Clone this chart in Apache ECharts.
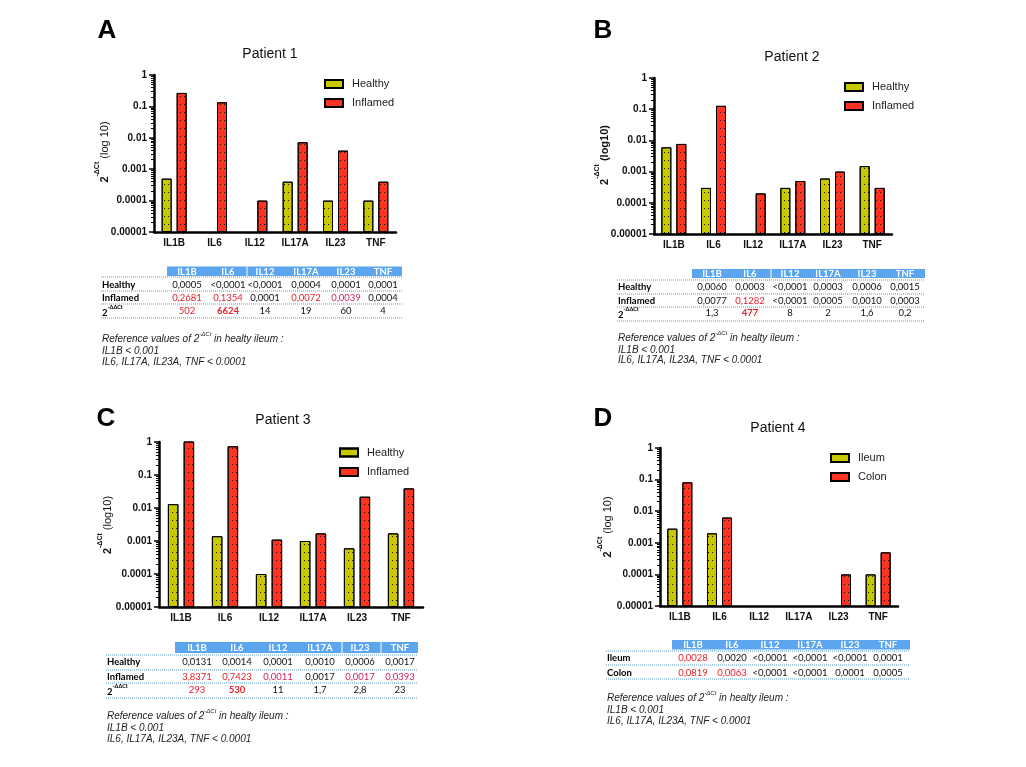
<!DOCTYPE html>
<html><head><meta charset="utf-8">
<script src="https://cdn.jsdelivr.net/npm/echarts@6/dist/echarts.min.js"></script>
<style>html,body{margin:0;padding:0;background:#fff}#c{width:1026px;height:767px}</style>
</head><body><div id="c"></div>
<script>
// ---------- data ----------
const genes = ['IL1B','IL6','IL12','IL17A','IL23','TNF'];
const yTickLabels = ['0.00001','0.0001','0.001','0.01','0.1','1'];

const p1Healthy  = [0.0005, null, null, 0.0004, 0.0001, 0.0001];
const p1Inflamed = [0.2681, 0.1354, 0.0001, 0.0072, 0.0039, 0.0004];
const p2Healthy  = [0.0060, 0.0003, null, 0.0003, 0.0006, 0.0015];
const p2Inflamed = [0.0077, 0.1282, 0.0002, 0.0005, 0.0010, 0.0003];
const p3Healthy  = [0.0131, 0.0014, 0.0001, 0.0010, 0.0006, 0.0017];
const p3Inflamed = [3.8371, 0.7423, 0.0011, 0.0017, 0.022, 0.0393];
const p4Ileum    = [0.0028, 0.0020, null, null, null, 0.0001];
const p4Colon    = [0.0819, 0.0063, null, null, 0.0001, 0.0005];

// table texts
const t1Healthy  = ['0,0005','<0,0001','<0,0001','0,0004','0,0001','0,0001'];
const t1Inflamed = ['0,2681','0,1354','0,0001','0,0072','0,0039','0,0004'];
const t1Fold     = ['502','6624','14','19','60','4'];
const t2Healthy  = ['0,0060','0,0003','<0,0001','0,0003','0,0006','0,0015'];
const t2Inflamed = ['0,0077','0,1282','<0,0001','0,0005','0,0010','0,0003'];
const t2Fold     = ['1,3','477','8','2','1,6','0,2'];
const t3Healthy  = ['0,0131','0,0014','0,0001','0,0010','0,0006','0,0017'];
const t3Inflamed = ['3,8371','0,7423','0,0011','0,0017','0,0017','0,0393'];
const t3Fold     = ['293','530','11','1,7','2,8','23'];
const t4Ileum    = ['0,0028','0,0020','<0,0001','<0,0001','<0,0001','0,0001'];
const t4Colon    = ['0,0819','0,0063','<0,0001','<0,0001','0,0001','0,0005'];
const refLine2 = 'IL1B < 0.001';
const refLine3 = 'IL6, IL17A, IL23A, TNF < 0.0001';

// text colour keys per cell (k black, r red, m magenta, R red bold)
const c1Inflamed = ['r','r','k','r','m','k'];
const c1Fold     = ['r','R','k','k','k','k'];
const c2Inflamed = ['k','r','k','k','k','k'];
const c2Fold     = ['k','R','k','k','k','k'];
const c3Inflamed = ['r','r','m','k','m','m'];
const c3Fold     = ['r','R','k','k','k','k'];
const c4Ileum    = ['r','k','k','k','k','k'];
const c4Colon    = ['r','r','k','k','k','k'];
const kAll = ['k','k','k','k','k','k'];

// ---------- styles / layout ----------
const FONT = "'Liberation Sans', Arial, sans-serif";
const TFONT = "Lato, 'Liberation Sans', sans-serif";
const GREEN = '#c8c800', RED = '#ff3322';
const COLMAP = {k:'#111', r:'#e8202a', m:'#cc1f6a', R:'#e8202a'};
const decal = {symbol:'rect', symbolSize:1, dashArrayX:[1,3], dashArrayY:[1,7], color:'rgba(0,0,0,0.9)'};

const panels = [
  {grid:{left:154, top:75, width:242, height:157}, names:['Healthy','Inflamed'], data:[p1Healthy,p1Inflamed],
   legend:{left:319, top:72, gap:5}, barW:10, letter:['A',107,31], title:['Patient 1',270,54], yName:[102,152,' (log 10)',false]},
  {grid:{left:654, top:78, width:238, height:156}, names:['Healthy','Inflamed'], data:[p2Healthy,p2Inflamed],
   legend:{left:839, top:75, gap:5}, barW:10, letter:['B',603,31], title:['Patient 2',792,57], yName:[602,155,' (log10)',true]},
  {grid:{left:159, top:442, width:264, height:165}, names:['Healthy','Inflamed'], data:[p3Healthy,p3Inflamed],
   legend:{left:334, top:440.5, gap:5.5}, barW:10.5, letter:['C',106,419], title:['Patient 3',283,420], yName:[105,525,' (log10)',false]},
  {grid:{left:660, top:448, width:238, height:158}, names:['Ileum','Colon'], data:[p4Ileum,p4Colon],
   legend:{left:825, top:446, gap:5}, barW:10, letter:['D',603,419], title:['Patient 4',778,428], yName:[605,527,' (log 10)',false]}
];

const tables = [
  {labelX:102, hdr:[167,402,266.5,276], seps:[247], colX:[187,228,265,306,346,383], rowY:[285,298,311], lineY:[277,291,304,318], refY:[338,351,362],
   rows:[['Healthy',t1Healthy,kAll],['Inflamed',t1Inflamed,c1Inflamed],[null,t1Fold,c1Fold]]},
  {labelX:618, hdr:[692,925,269,278], seps:[771], colX:[712,750,790,828,867,905], rowY:[287,301,313], lineY:[280,294,307,321], refY:[337,350,360],
   rows:[['Healthy',t2Healthy,kAll],['Inflamed',t2Inflamed,c2Inflamed],[null,t2Fold,c2Fold]]},
  {labelX:107, hdr:[175,418,642,653], seps:[342,381], colX:[197,237,278,320,360,400], rowY:[662,677,690], lineY:[655,670,683,698], refY:[715,728,739],
   rows:[['Healthy',t3Healthy,kAll],['Inflamed',t3Inflamed,c3Inflamed],[null,t3Fold,c3Fold]]},
  {labelX:607, hdr:[672,910,640,649.5], seps:[], colX:[693,732,770,810,850,888], rowY:[658,673], lineY:[651,665,679], refY:[697,710,721],
   rows:[['Ileum',t4Ileum,c4Ileum],['Colon',t4Colon,c4Colon]]}
];

// ---------- build option ----------
const grids=[], xAxes=[], yAxes=[], series=[], legends=[], graphics=[];

function txt(x, y, text, opts) {
  return Object.assign({type:'text', x:x, y:y, silent:true, style:Object.assign({
    text:text, fill:'#111', fontFamily:FONT, fontSize:11,
    align:'center', verticalAlign:'middle', textAlign:'center', textVerticalAlign:'middle'
  }, opts.style||{})}, opts.el||{});
}

panels.forEach((p,i) => {
  grids.push(Object.assign({containLabel:false}, p.grid));
  xAxes.push({gridIndex:i, type:'category', data:genes,
    axisLine:{lineStyle:{color:'#000', width:2.5}},
    axisTick:{alignWithLabel:true, length:4, lineStyle:{color:'#000', width:1.5}},
    axisLabel:{fontFamily:FONT, fontWeight:'bold', fontSize:10, color:'#111', margin:6}});
  yAxes.push({gridIndex:i, type:'log', logBase:10, min:0.00001, max:1, startValue:0.00001,
    splitLine:{show:false},
    axisLine:{show:true, lineStyle:{color:'#000', width:2.5}},
    axisTick:{show:true, length:5, lineStyle:{color:'#000', width:1.5}},
    minorTick:{show:true, splitNumber:9, length:3, lineStyle:{color:'#000', width:1}},
    axisLabel:{fontFamily:FONT, fontWeight:'bold', fontSize:10, color:'#111', margin:7,
      formatter: v => yTickLabels[Math.round(Math.log10(v)) + 5]}});
  p.names.forEach((nm,k) => {
    series.push({type:'bar', name:nm, xAxisIndex:i, yAxisIndex:i, data:p.data[k],
      barWidth:p.barW, barGap:'50%', clip:true, silent:true,
      itemStyle:{color:k===0?GREEN:RED, borderColor:'#000', borderWidth:1, decal:decal},
      emphasis:{disabled:true}});
  });
  legends.push({orient:'vertical', left:p.legend.left, top:p.legend.top, itemGap:p.legend.gap,
    data:p.names, icon:'rect', itemWidth:18, itemHeight:8, selectedMode:false,
    textStyle:{fontFamily:FONT, fontSize:11, color:'#222', lineHeight:14, padding:[0,0,0,4]}});
  // letter, title, y name
  graphics.push(txt(p.letter[1], p.letter[2], p.letter[0], {style:{fontSize:26, fontWeight:'bold', fill:'#000'}}));
  graphics.push(txt(p.title[1], p.title[2], p.title[0], {style:{fontSize:14, fill:'#111'}}));
  graphics.push(txt(p.yName[0], p.yName[1], '{b|2}{s|-ΔCt}{n|' + p.yName[2] + '}', {
    el:{rotation:Math.PI/2},
    style:{rich:{
      b:{fontFamily:FONT, fontSize:11, fontWeight:'bold', fill:'#111', lineHeight:16, verticalAlign:'bottom'},
      s:{fontFamily:FONT, fontSize:7, fontWeight:'bold', fill:'#111', verticalAlign:'top'},
      n:{fontFamily:FONT, fontSize:11, fontWeight:p.yName[3]?'bold':'normal', fill:'#111', lineHeight:16, verticalAlign:'bottom'}
    }}}));
});

tables.forEach(t => {
  const [hx1, hx2, hy1, hy2] = t.hdr;
  graphics.push({type:'rect', silent:true, shape:{x:hx1, y:hy1, width:hx2-hx1, height:hy2-hy1}, style:{fill:'#5ba6ee'}});
  t.seps.forEach(sx => graphics.push({type:'line', silent:true, shape:{x1:sx, y1:hy1, x2:sx, y2:hy2}, style:{stroke:'#fff', lineWidth:1}}));
  genes.forEach((g,ci) => graphics.push(txt(t.colX[ci], (hy1+hy2)/2 + 0.5, g, {style:{fontFamily:TFONT, fontSize:9.5, fontWeight:'bold', fill:'#fff'}})));
  t.lineY.forEach(ly => graphics.push({type:'line', silent:true, shape:{x1:t.labelX-1, y1:ly, x2:hx2, y2:ly}, style:{stroke:'#5b9bd5', lineWidth:1, lineDash:[1,1]}}));
  t.rows.forEach((r,ri) => {
    const y = t.rowY[ri];
    if (r[0]) {
      graphics.push(txt(t.labelX, y, r[0], {style:{fontFamily:TFONT, fontSize:9.5, fontWeight:'bold', fill:'#000', align:'left', textAlign:'left'}}));
    } else {
      graphics.push(txt(t.labelX, y, '{b|2}{s|-ΔΔCt}', {style:{align:'left', textAlign:'left', rich:{
        b:{fontFamily:TFONT, fontSize:9.5, fontWeight:'bold', fill:'#000', lineHeight:13, verticalAlign:'bottom'},
        s:{fontFamily:TFONT, fontSize:5.5, fontWeight:'bold', fill:'#000', verticalAlign:'top'}}}}));
    }
    r[1].forEach((v,ci) => {
      const ck = r[2][ci];
      graphics.push(txt(t.colX[ci], y, v, {style:{fontFamily:TFONT, fontSize:9.5, fill:COLMAP[ck], fontWeight:ck==='R'?'bold':'normal'}}));
    });
  });
  const ri = {fontFamily:FONT, fontSize:10, fontStyle:'italic', fill:'#222'};
  graphics.push(txt(t.labelX, t.refY[0], '{i|Reference values of 2}{s|-ΔCt}{i| in healty ileum :}', {style:{align:'left', textAlign:'left', rich:{
    i:Object.assign({lineHeight:13, verticalAlign:'bottom'}, ri),
    s:{fontFamily:FONT, fontSize:6, fontStyle:'italic', fill:'#222', verticalAlign:'top'}}}}));
  graphics.push(txt(t.labelX, t.refY[1], refLine2, {style:Object.assign({align:'left', textAlign:'left'}, ri)}));
  graphics.push(txt(t.labelX, t.refY[2], refLine3, {style:Object.assign({align:'left', textAlign:'left'}, ri)}));
});

const chart = echarts.init(document.getElementById('c'), null, {renderer:'canvas'});
chart.setOption({
  backgroundColor:'#fff', animation:false,
  grid:grids, xAxis:xAxes, yAxis:yAxes, series:series, legend:legends,
  graphic:{elements:graphics}
});
</script></body></html>
